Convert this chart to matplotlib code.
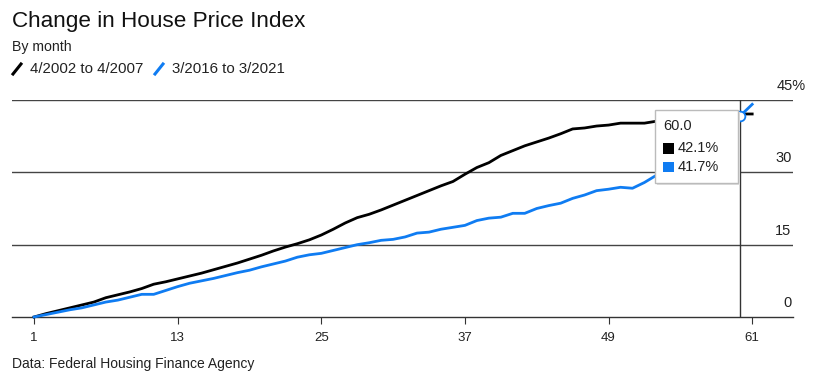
import matplotlib
matplotlib.use("Agg")
import matplotlib.pyplot as plt
from matplotlib.lines import Line2D
from matplotlib.patches import Rectangle

plt.rcParams['font.family'] = ['Liberation Sans', 'DejaVu Sans']

# month index 1..61, % change since start of period
months = list(range(1, 62))
boom_2002 = [0, 0.7, 1.3, 1.9, 2.5, 3.1, 4.0, 4.6, 5.2, 5.9,
             6.8, 7.3, 7.9, 8.5, 9.1, 9.8, 10.5, 11.2, 12.0, 12.8,
             13.7, 14.5, 15.2, 16.0, 17.0, 18.2, 19.5, 20.6, 21.3, 22.2,
             23.2, 24.2, 25.2, 26.2, 27.2, 28.1, 29.6, 31.0, 32.0, 33.5,
             34.5, 35.5, 36.3, 37.1, 38.0, 39.0, 39.2, 39.6, 39.8, 40.2,
             40.2, 40.2, 40.6, 40.8, 41.0, 41.3, 41.5, 41.7, 41.9, 42.1,
             42.1]
boom_2016 = [0, 0.5, 1.0, 1.5, 1.9, 2.5, 3.1, 3.5, 4.1, 4.7,
             4.7, 5.5, 6.3, 7.0, 7.5, 8.0, 8.6, 9.2, 9.7, 10.4,
             11.0, 11.6, 12.4, 12.9, 13.2, 13.8, 14.4, 15.0, 15.4, 15.9,
             16.1, 16.6, 17.4, 17.6, 18.2, 18.6, 19.0, 20.0, 20.5, 20.7,
             21.5, 21.5, 22.5, 23.1, 23.6, 24.6, 25.3, 26.2, 26.5, 26.9,
             26.7, 27.9, 29.4, 31.0, 32.8, 34.5, 36.3, 38.0, 39.9, 41.7,
             44.1]
x_ticks = [1, 13, 25, 37, 49, 61]
y_ticks = [0, 15, 30, 45]
y_labels = ['0', '15', '30', '45%']
hover_x = 60
hover_labels = ['42.1%', '41.7%']

black = '#000000'
blue = '#0f7cf2'
W, H = 816, 371

fig = plt.figure(figsize=(W / 100, H / 100), dpi=100)
ax = fig.add_axes([12 / W, 1 - 317 / H, (793 - 12) / W, (317 - 100) / H])

for y in y_ticks[1:]:
    ax.axhline(y, color='#444444', lw=1.0, zorder=1)
ax.plot(months, boom_2002, color=black, lw=2.0, zorder=3, clip_on=False)
ax.plot(months, boom_2016, color=blue, lw=2.0, zorder=3, clip_on=False)

ax.set_xlim(-0.84, 64.41)
ax.set_ylim(0, 45)
for s in ['top', 'right', 'left']:
    ax.spines[s].set_visible(False)
ax.spines['bottom'].set_color('#333333')
ax.spines['bottom'].set_linewidth(1.0)
ax.set_yticks([])
ax.set_xticks(x_ticks)
ax.tick_params(axis='x', direction='out', length=5, width=0.8, color='#333333',
               labelsize=9.5, pad=6, labelcolor='#222222')

# right side y labels sitting above gridlines
for y, lab in zip(y_ticks, y_labels):
    if lab.endswith('%'):
        ax.annotate(lab, xy=(1.0, y), xycoords=('axes fraction', 'data'),
                    xytext=(-12, 10), textcoords='offset points',
                    ha='left', va='center', fontsize=10.5, color='#222222')
    else:
        ax.annotate(lab, xy=(1.0, y), xycoords=('axes fraction', 'data'),
                    xytext=(-1, 10), textcoords='offset points',
                    ha='right', va='center', fontsize=10.5, color='#222222')

# hover crosshair and marker
ax.axvline(hover_x, color='#333333', lw=1.0, zorder=2)
ax.plot([hover_x], [boom_2016[hover_x - 1]], marker='o', ms=7, mfc='white',
        mec=blue, mew=1.3, zorder=5, clip_on=False)

# tooltip
bx0, by0, bx1, by1 = 655, 110, 738, 183
fig.patches.append(Rectangle(((bx0 + 2) / W, 1 - (by1 + 2) / H), (bx1 - bx0) / W,
                             (by1 - by0) / H, transform=fig.transFigure,
                             fc='#dddddd', ec='none', zorder=8))
fig.patches.append(Rectangle((bx0 / W, 1 - by1 / H), (bx1 - bx0) / W,
                             (by1 - by0) / H, transform=fig.transFigure,
                             fc='white', ec='#bbbbbb', lw=1.0, zorder=9))
fig.text(663 / W, 1 - 126 / H, '%.1f' % hover_x, fontsize=10.5, color='#222222',
         va='center', zorder=10)
for i, (c, lab) in enumerate(zip([black, blue], hover_labels)):
    yc = 148 + i * 19
    fig.patches.append(Rectangle((663 / W, 1 - (yc + 5.5) / H), 11 / W, 11 / H,
                                 transform=fig.transFigure, fc=c, ec='none', zorder=10))
    fig.text(678 / W, 1 - yc / H, lab, fontsize=10.5, color='#222222',
             va='center', zorder=10)

# headings
fig.text(12 / W, 1 - 22 / H, 'Change in House Price Index', fontsize=16.2,
         color='#111111', va='center')
fig.text(12 / W, 1 - 47 / H, 'By month', fontsize=10.2, color='#222222', va='center')
fig.lines.append(Line2D([13 / W, 21 / W], [1 - 74 / H, 1 - 64 / H],
                        transform=fig.transFigure, color=black, lw=2.2))
fig.text(30 / W, 1 - 69 / H, '4/2002 to 4/2007', fontsize=10.8, color='#222222',
         va='center')
fig.lines.append(Line2D([155 / W, 163 / W], [1 - 74 / H, 1 - 64 / H],
                        transform=fig.transFigure, color=blue, lw=2.2))
fig.text(172 / W, 1 - 69 / H, '3/2016 to 3/2021', fontsize=10.8, color='#222222',
         va='center')
fig.text(12 / W, 1 - 364 / H, 'Data: Federal Housing Finance Agency', fontsize=10,
         color='#222222', va='center')

fig.savefig('out.png', dpi=100)
